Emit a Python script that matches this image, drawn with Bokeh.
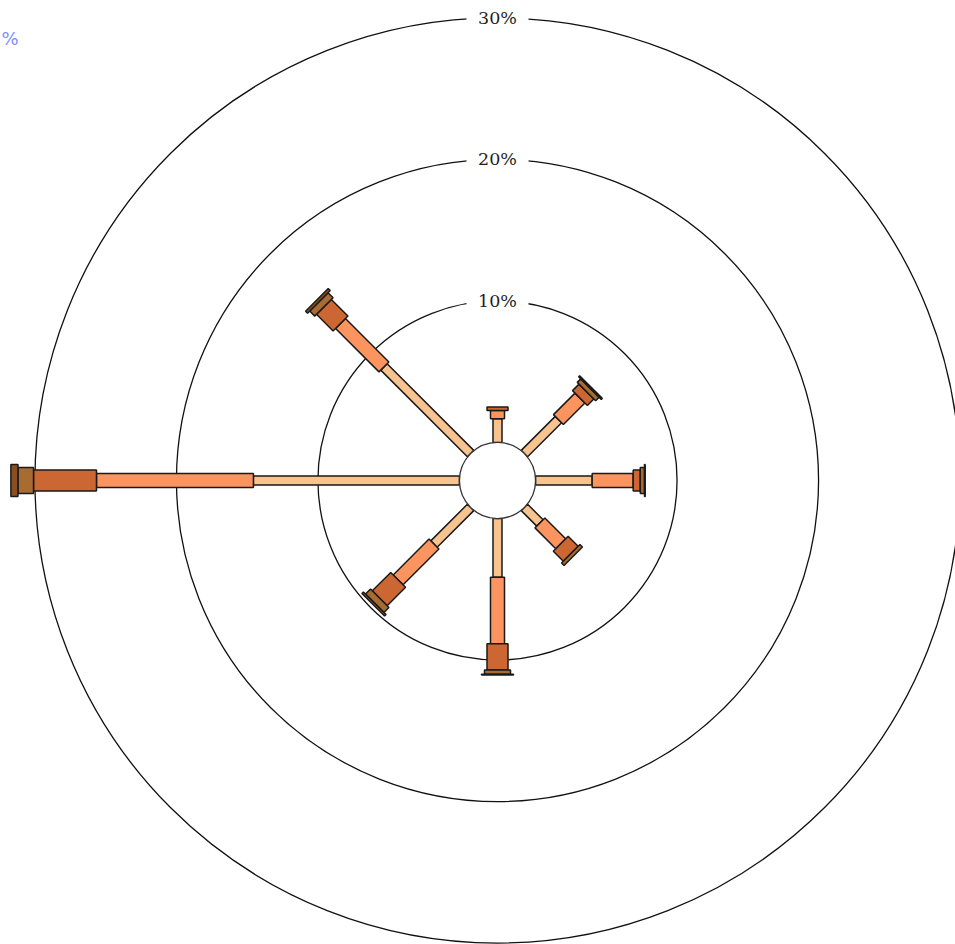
import numpy as np
from bokeh.plotting import figure
from bokeh.models import ColumnDataSource, Range1d
from bokeh.core.properties import value
from bokeh.embed import file_html
from bokeh.resources import INLINE

# ---- data (percent of time per direction and speed class) ----
directions = ["N", "NE", "E", "SE", "S", "SW", "W", "NW"]
dir_degrees = [0, 45, 90, 135, 180, 225, 270, 315]
speed_classes = ["class 1", "class 2", "class 3", "class 4", "class 5"]
class1 = [1.67, 3.40, 4.00, 1.55, 4.15, 3.66, 14.56, 8.66]
class2 = [0.59, 2.15, 2.90, 2.08, 4.70, 3.58, 11.09, 4.34]
class3 = [0.24, 0.65, 0.50, 1.00, 1.85, 1.84, 4.45, 1.66]
class4 = [0.00, 0.35, 0.30, 0.25, 0.30, 0.50, 1.10, 0.50]
class5 = [0.00, 0.10, 0.05, 0.00, 0.05, 0.15, 0.50, 0.20]
ring_values = [10, 20, 30]
ring_labels = ["10%", "20%", "30%"]

# ---- styling ----
class_colors = ["#f7c38f", "#fc9460", "#cc6633", "#a86b32", "#8b4e1e"]
class_thickness = [9, 14, 21, 26, 32]  # screen px
hole = 2.69          # inner hole radius, in percent units
px_per_unit = 14.15  # screen px per percent

W, H = 955, 944
cx, cy = 497, 480   # center in frame px
x_range = Range1d(-cx / px_per_unit, (W - cx) / px_per_unit)
y_range = Range1d(-(H - cy) / px_per_unit, cy / px_per_unit)

p = figure(width=W, height=H, x_range=x_range, y_range=y_range,
           output_backend="svg", toolbar_location=None,
           x_axis_type=None, y_axis_type=None, min_border=0)
p.grid.visible = False
p.outline_line_color = None
p.background_fill_color = "white"
p.border_fill_color = "white"

# rings
p.circle(x=[0] * len(ring_values), y=[0] * len(ring_values),
         radius=[hole + v for v in ring_values],
         fill_color=None, line_color="#111111", line_width=1.3)

# ring labels
lab_src = ColumnDataSource(dict(x=[0] * len(ring_values),
                                y=[hole + v for v in ring_values],
                                text=ring_labels))
p.rect(x="x", y="y", width=62, height=20, width_units="screen",
       height_units="screen", fill_color="white", line_color=None, source=lab_src)
p.text(x="x", y="y", text="text", source=lab_src, text_align="center",
       text_baseline="middle", text_font=value("DejaVu Serif"),
       text_font_size="17.5px", text_color="#1e1e1e")

# stacked radial bars
series = [class1, class2, class3, class4, class5]
xs, ys, ws, hs, angs, cols = [], [], [], [], [], []
for i, deg in enumerate(dir_degrees):
    a = np.radians(90 - deg)
    cum = 0.0
    for j, s in enumerate(series):
        v = s[i]
        if v <= 0:
            continue
        r0 = hole + cum
        r1 = hole + cum + v
        rc = (r0 + r1) / 2
        xs.append(rc * np.cos(a))
        ys.append(rc * np.sin(a))
        ws.append(r1 - r0)
        hs.append(class_thickness[j])
        angs.append(a)
        cols.append(class_colors[j])
        cum += v
bar_src = ColumnDataSource(dict(x=xs, y=ys, w=ws, h=hs, angle=angs, color=cols))
p.rect(x="x", y="y", width="w", height="h", angle="angle", source=bar_src,
       height_units="screen", fill_color="color", line_color="#1a1a1a",
       line_width=1.5)

# inner hole
p.circle(x=[0], y=[0], radius=[hole], fill_color="white",
         line_color="#333333", line_width=1.3)

# blue label at top-left
p.text(x=[x_range.start + 1 / px_per_unit], y=[y_range.end - 38 / px_per_unit],
       text=["%"], text_align="left", text_baseline="middle",
       text_font=value("DejaVu Sans"), text_font_size="18px",
       text_color="#7f8cff")

open("out.html", "w").write(file_html(p, INLINE))
